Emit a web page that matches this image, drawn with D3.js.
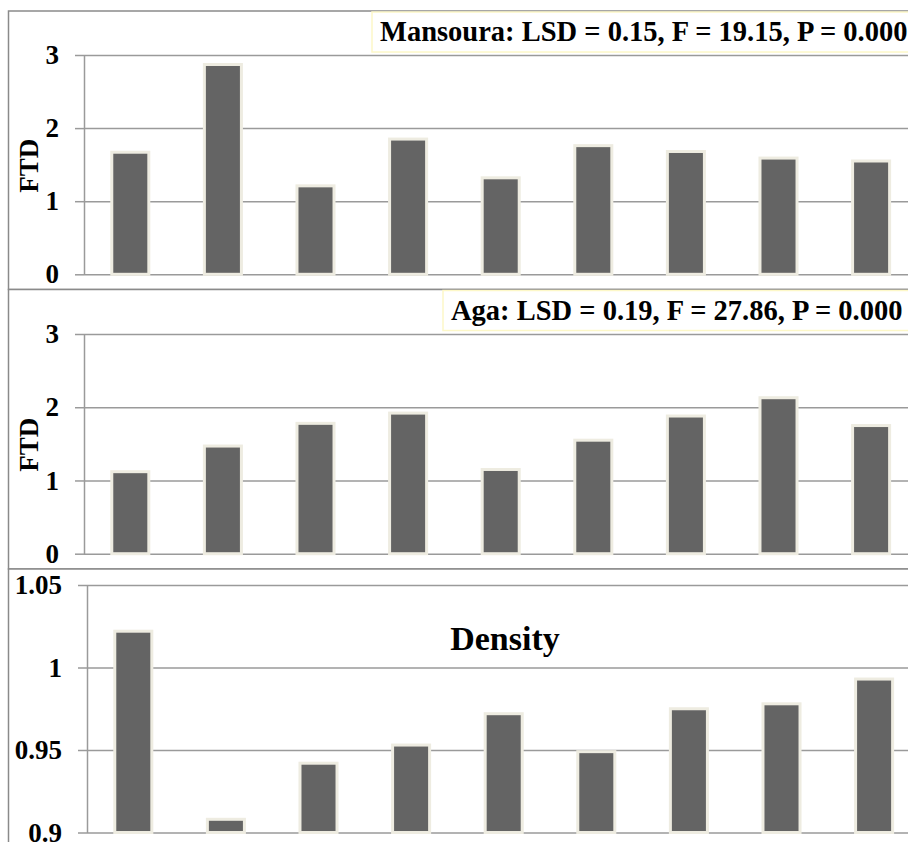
<!DOCTYPE html>
<html>
<head>
<meta charset="utf-8">
<script src="https://cdn.jsdelivr.net/npm/d3@7"></script>
<style>
  html, body { margin: 0; padding: 0; background: #fff; }
  svg text { font-family: "Liberation Serif", "DejaVu Serif", "Noto Serif", serif; font-weight: bold; fill: #000; }
</style>
</head>
<body>
<div id="chart"></div>
<script>
// data
const sites = ["S1", "S2", "S3", "S4", "S5", "S6", "S7", "S8", "S9"];
const mansouraFTD = [1.67, 2.87, 1.21, 1.85, 1.32, 1.76, 1.68, 1.59, 1.55];
const agaFTD = [1.12, 1.47, 1.78, 1.92, 1.15, 1.55, 1.88, 2.13, 1.75];
const density = [1.022, 0.908, 0.942, 0.953, 0.972, 0.949, 0.975, 0.978, 0.993];
const ftdTicks = [0, 1, 2, 3];
const densityTicks = [0.9, 0.95, 1, 1.05];
const notes = [
  "Mansoura: LSD = 0.15, F = 19.15, P = 0.000",
  "Aga: LSD = 0.19, F = 27.86, P = 0.000"
];

const serif = '"Liberation Serif", "DejaVu Serif", "Noto Serif", serif';
const W = 908, H = 842;
const svg = d3.select("#chart").append("svg")
    .attr("width", W)
    .attr("height", H)
    .attr("font-family", serif);

const panels = [
  { top: 11, bottom: 289.5, values: mansouraFTD, ticks: ftdTicks, domain: [0, 3], y0: 274.3, y1: 55, ax: 84, fmt: d3.format("d"), label: "FTD", note: notes[0], noteX: 372 },
  { top: 289.5, bottom: 569, values: agaFTD, ticks: ftdTicks, domain: [0, 3], y0: 553.7, y1: 334, ax: 84, fmt: d3.format("d"), label: "FTD", note: notes[1], noteX: 443 },
  { top: 569, bottom: 900, values: density, ticks: densityTicks, domain: [0.9, 1.05], y0: 832.5, y1: 585, ax: 87, fmt: d => String(+d.toFixed(2)), title: "Density" }
];

panels.forEach(p => {
  const g = svg.append("g");

  // frame
  g.append("rect")
    .attr("x", 8.5).attr("y", p.top)
    .attr("width", 960).attr("height", p.bottom - p.top)
    .attr("fill", "#fff")
    .attr("stroke", "#8a8a8a")
    .attr("stroke-width", 1.5);

  const x = d3.scaleBand().domain(sites).range([p.ax, p.ax + 9 * 92.6]).paddingInner(0.6).paddingOuter(0.3);
  const y = d3.scaleLinear().domain(p.domain).range([p.y0, p.y1]);

  // gridlines
  g.append("g")
    .attr("transform", `translate(${p.ax},0)`)
    .call(d3.axisLeft(y).tickValues(p.ticks).tickSize(-900).tickFormat(""))
    .call(s => s.select(".domain").remove())
    .call(s => s.selectAll("line").attr("stroke", "#9a9a9a").attr("stroke-width", 1.5));

  // axis with outside ticks
  g.append("g")
    .attr("transform", `translate(${p.ax},0)`)
    .call(d3.axisLeft(y).tickValues(p.ticks).tickSize(9).tickSizeOuter(0).tickPadding(16).tickFormat(p.fmt))
    .attr("font-family", serif)
    .call(s => s.select(".domain").attr("stroke", "#9a9a9a").attr("stroke-width", 1.5))
    .call(s => s.selectAll("line").attr("stroke", "#9a9a9a").attr("stroke-width", 1.5))
    .call(s => s.selectAll("text").attr("font-size", 27).attr("font-weight", "bold").attr("fill", "#000"));

  // bars
  g.selectAll("rect.bar")
    .data(p.values)
    .join("rect")
    .attr("class", "bar")
    .attr("x", (d, i) => x(sites[i]))
    .attr("width", x.bandwidth())
    .attr("y", d => y(d))
    .attr("height", d => y(p.domain[0]) - y(d))
    .attr("fill", "#646464")
    .attr("stroke", "#eeece1")
    .attr("stroke-width", 3);

  if (p.label) {
    g.append("text")
      .attr("transform", `translate(38,${(p.y0 + p.y1) / 2 + 1}) rotate(-90)`)
      .attr("text-anchor", "middle")
      .attr("font-size", 27)
      .text(p.label);
  }

  if (p.note) {
    g.append("rect")
      .attr("x", p.noteX).attr("y", p.top + 1)
      .attr("width", 600).attr("height", 40)
      .attr("fill", "#fff")
      .attr("stroke", "#fdf8c8")
      .attr("stroke-width", 1.5);
    g.append("text")
      .attr("x", p.noteX + 8).attr("y", p.top + 30)
      .attr("font-size", 28.5)
      .text(p.note);
  }

  if (p.title) {
    g.append("text")
      .attr("x", 505).attr("y", 650)
      .attr("text-anchor", "middle")
      .attr("font-size", 34)
      .text(p.title);
  }
});
</script>
</body>
</html>
